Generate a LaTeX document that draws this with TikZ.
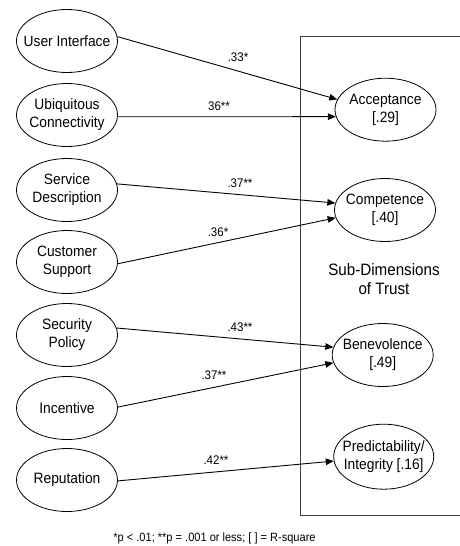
\documentclass[tikz,border=0pt]{standalone}
\usepackage{fontspec}
\setmainfont[FakeStretch=0.92]{Liberation Sans}
\usetikzlibrary{shapes.geometric,arrows.meta}
\tikzset{
  latent/.style={ellipse,draw,line width=0.8pt,minimum width=101pt,minimum height=63pt,inner sep=0pt},
  txt/.style={inner sep=0pt,align=center,font=\fontsize{15}{18}\selectfont},
  path/.style={draw,line width=0.9pt,-{Triangle[length=8pt,width=6.5pt]}},
  coef/.style={inner sep=0pt,font=\fontsize{12.5}{14}\selectfont},
}
\begin{document}
\begin{tikzpicture}[x=1pt,y=-1pt]
\useasboundingbox (0,0) rectangle (459,546);
% box
\draw[line width=0.8pt,black!75] (462,36.7) -- (300.7,36.7) -- (300.7,515.7) -- (462,515.7);
% sources
\node[latent] (ui) at (67,41) {};
\node[latent] (ubi) at (67,115) {};
\node[latent] (sd) at (67,190) {};
\node[latent] (cs) at (67,262) {};
\node[latent] (sp) at (67,335) {};
\node[latent] (inc) at (67,408) {};
\node[latent] (rep) at (67,480) {};
\node[txt] (uit) at (ui) {User Interface};
\node[txt] (ubit) at (ubi) {Ubiquitous\\Connectivity};
\node[txt] (sdt) at (sd) {Service\\Description};
\node[txt] (cst) at (cs) {Customer\\Support};
\node[txt] (spt) at (sp) {Security\\Policy};
\node[txt] (inct) at (inc) {Incentive};
\node[txt] (rept) at (rep) {Reputation};
% targets
\node[latent] (acc) at (385.5,109.7) {};
\node[latent] (comp) at (385,210) {};
\node[latent] (ben) at (382.7,355) {};
\node[latent,minimum width=100pt,minimum height=65pt] (pred) at (383.7,456.7) {};
\node[txt] (acct) at (acc) {Acceptance\\{[.29]}};
\node[txt] (compt) at (comp) {Competence\\{[.40]}};
\node[txt] (bent) at (ben) {Benevolence\\{[.49]}};
\node[txt] (predt) at (pred) {Predictability/\\Integrity [.16]};
\node[align=center,inner sep=0pt,font=\fontsize{16.5}{18.5}\selectfont] (sub) at (384,279) {Sub-Dimensions\\of Trust};
% paths
\draw[path] (ui.5) -- (acc.168);
\draw[path] (ubi.-2) -- (acc.188.2);
\draw[path] (sd.7) -- (comp.172);
\draw[path] (cs.-2) -- (comp.189);
\draw[path] (sp.8) -- (ben.171);
\draw[path] (inc.1) -- (ben.189);
\draw[path] (rep.-1) -- (pred.185);
% coefficients
\node[coef] (c1) at (238,57) {.33*};
\node[coef] (c2) at (219,106) {36**};
\node[coef] (c3) at (240,183) {.37**};
\node[coef] (c4) at (218,232) {.36*};
\node[coef] (c5) at (240,327) {.43**};
\node[coef] (c6) at (214,375) {.37**};
\node[coef] (c7) at (216,460) {.42**};
% footnote
\node[inner sep=0pt,font=\fontsize{12}{14}\selectfont] (note) at (214.5,538) {*p < .01; **p = .001 or less; [ ] = R-square};
\end{tikzpicture}
\end{document}
